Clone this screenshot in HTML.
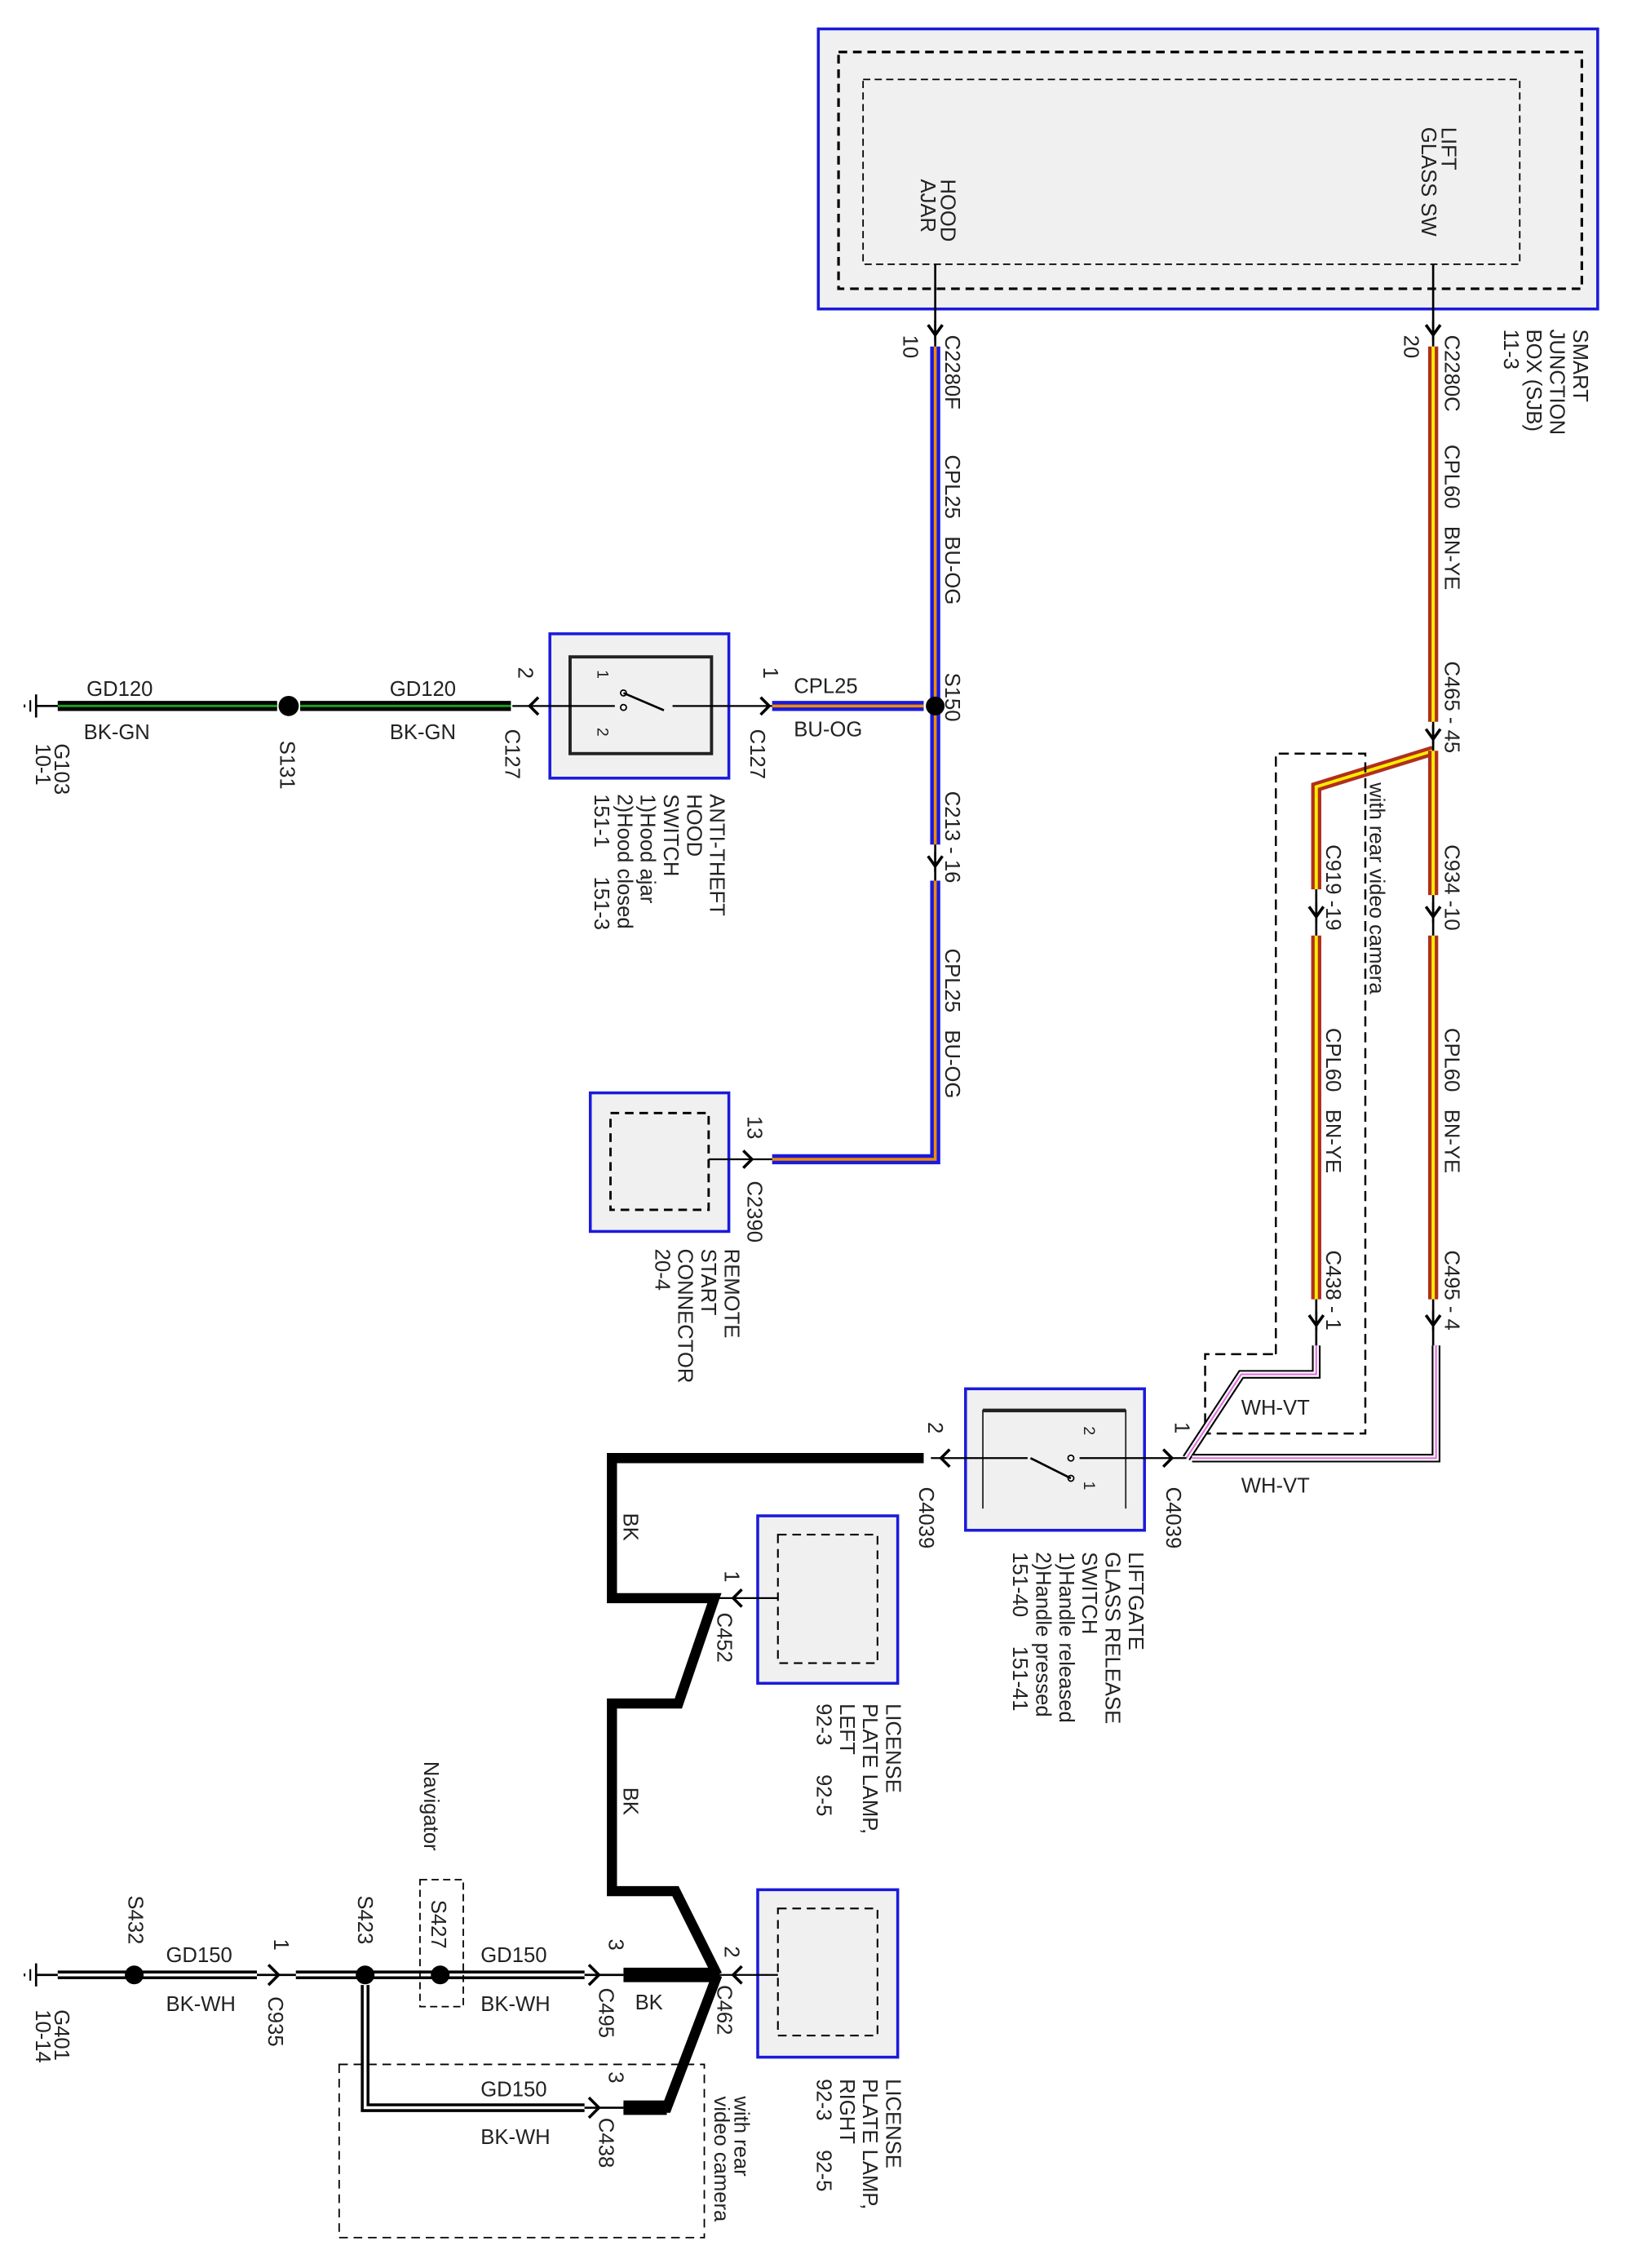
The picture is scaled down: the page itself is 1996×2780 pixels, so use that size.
<!DOCTYPE html>
<html><head><meta charset="utf-8"><style>
html,body{margin:0;padding:0;background:#fff}
svg{display:block}
text{font-family:"Liberation Sans",sans-serif;font-size:14.5px;fill:#222;white-space:pre}
</style></head><body>
<svg width="1996" height="2780" viewBox="0 0 1128 1571" xmlns="http://www.w3.org/2000/svg" xml:space="preserve">
<defs>
<g id="dn"><path d="M-5,-7 L0,0 L5,-7" fill="none" stroke="#000" stroke-width="2"/><line x1="0" y1="-10" x2="0" y2="4" stroke="#000" stroke-width="1.5"/></g>
</defs>
<rect width="1128" height="1571" fill="#fff"/>

<rect x="567" y="20" width="540" height="194" fill="#f0f0f0" stroke="#1a1adc" stroke-width="2"/>
<rect x="581" y="36" width="515" height="164" fill="none" stroke="#000" stroke-width="1.8" stroke-dasharray="6,4"/>
<rect x="598" y="55" width="455" height="128" fill="none" stroke="#000" stroke-width="1" stroke-dasharray="5,3"/>
<text transform="translate(652,124) rotate(90)"><tspan x="0" dy="0">HOOD</tspan><tspan x="0" dy="14">AJAR</tspan></text>
<text transform="translate(999,88) rotate(90)"><tspan x="0">LIFT</tspan><tspan x="0" dy="14">GLASS SW</tspan></text>
<text transform="translate(1090,228) rotate(90)"><tspan x="0">SMART</tspan><tspan x="0" dy="16">JUNCTION</tspan><tspan x="0" dy="16">BOX (SJB)</tspan><tspan x="0" dy="16">11-3</tspan></text>

<line x1="648" y1="183" x2="648" y2="240" stroke="#000" stroke-width="1.5"/>
<use href="#dn" x="648" y="232"/>
<g stroke-linecap="butt" fill="none">
<polyline points="648,240 648,585" stroke="#1a1adc" stroke-width="7"/>
<polyline points="648,240 648,585" stroke="#f08c00" stroke-width="2"/>
<polyline points="648,610 648,803 535,803" stroke="#1a1adc" stroke-width="7"/>
<polyline points="648,610 648,803 535,803" stroke="#f08c00" stroke-width="2"/>
<polyline points="535,489 640,489" stroke="#1a1adc" stroke-width="7"/>
<polyline points="535,489 640,489" stroke="#f08c00" stroke-width="2"/>
</g>
<line x1="648" y1="585" x2="648" y2="610" stroke="#000" stroke-width="1.5"/>
<use href="#dn" x="648" y="600"/>
<circle cx="648" cy="489" r="6.5" fill="#000"/>
<text transform="translate(626,232) rotate(90)">10</text>
<text transform="translate(655,232) rotate(90)">C2280F</text>
<text transform="translate(655,315) rotate(90)">CPL25   BU-OG</text>
<text transform="translate(655,466) rotate(90)">S150</text>
<text transform="translate(655,548) rotate(90)">C213 - 16</text>
<text transform="translate(655,657) rotate(90)">CPL25   BU-OG</text>

<rect x="381" y="439" width="124" height="100" fill="#f0f0f0" stroke="#1a1adc" stroke-width="2"/>
<rect x="395" y="455" width="98" height="67" fill="none" stroke="#222" stroke-width="2.2"/>
<line x1="355" y1="489" x2="535" y2="489" stroke="#000" stroke-width="1.3"/>
<path d="M527,483 L533,489 L527,495" fill="none" stroke="#000" stroke-width="2"/>
<path d="M373,483 L367,489 L373,495" fill="none" stroke="#000" stroke-width="2"/>
<rect x="426" y="478" width="40" height="20" fill="#f0f0f0"/>
<circle cx="432" cy="480" r="2" fill="#fff" stroke="#000"/><circle cx="432" cy="490" r="2" fill="#fff" stroke="#000"/>
<line x1="432" y1="480" x2="460" y2="492" stroke="#000" stroke-width="1.5"/>
<text transform="translate(414,464) rotate(90)" style="font-size:11px">1</text>
<text transform="translate(414,504) rotate(90)" style="font-size:11px">2</text>
<text transform="translate(529,462) rotate(90)">1</text>
<text transform="translate(520,505) rotate(90)">C127</text>
<text transform="translate(359,462) rotate(90)">2</text>
<text transform="translate(350,505) rotate(90)">C127</text>
<text x="550" y="480">CPL25</text><text x="550" y="510">BU-OG</text>
<text transform="translate(492,550) rotate(90)"><tspan x="0">ANTI-THEFT</tspan><tspan x="0" dy="16">HOOD</tspan><tspan x="0" dy="16">SWITCH</tspan><tspan x="0" dy="16">1)Hood ajar</tspan><tspan x="0" dy="16">2)Hood closed</tspan><tspan x="0" dy="16">151-1     151-3</tspan></text>

<g>
<line x1="40" y1="489" x2="192" y2="489" stroke="#000" stroke-width="7"/>
<line x1="40" y1="489" x2="192" y2="489" stroke="#1aa01a" stroke-width="1.6"/>
<line x1="208" y1="489" x2="354" y2="489" stroke="#000" stroke-width="7"/>
<line x1="208" y1="489" x2="354" y2="489" stroke="#1aa01a" stroke-width="1.6"/>
</g>
<circle cx="200" cy="489" r="7" fill="#000"/>
<line x1="25" y1="489" x2="40" y2="489" stroke="#000" stroke-width="1.5"/>
<line x1="25" y1="481" x2="25" y2="497" stroke="#000" stroke-width="1.5"/>
<line x1="21" y1="485" x2="21" y2="493" stroke="#000" stroke-width="1.2"/>
<line x1="17" y1="488" x2="17" y2="490" stroke="#000" stroke-width="1.2"/>
<text x="60" y="482">GD120</text><text x="58" y="512">BK-GN</text>
<text x="270" y="482">GD120</text><text x="270" y="512">BK-GN</text>
<text transform="translate(194,513) rotate(90)">S131</text>
<text transform="translate(38,515) rotate(90)"><tspan x="0">G103</tspan><tspan x="0" dy="13">10-1</tspan></text>

<rect x="409" y="757" width="96" height="96" fill="#f0f0f0" stroke="#1a1adc" stroke-width="2"/>
<rect x="423" y="771" width="68" height="67" fill="none" stroke="#000" stroke-width="1.6" stroke-dasharray="6,4"/>
<line x1="491" y1="803" x2="535" y2="803" stroke="#000" stroke-width="1.3"/>
<path d="M515,797 L521,803 L515,809" fill="none" stroke="#000" stroke-width="2"/>
<text transform="translate(518,773) rotate(90)">13</text>
<text transform="translate(518,818) rotate(90)">C2390</text>
<text transform="translate(502,865) rotate(90)"><tspan x="0">REMOTE</tspan><tspan x="0" dy="16">START</tspan><tspan x="0" dy="16">CONNECTOR</tspan><tspan x="0" dy="16">20-4</tspan></text>

<line x1="993" y1="183" x2="993" y2="240" stroke="#000" stroke-width="1.5"/>
<use href="#dn" x="993" y="232"/>
<g fill="none" stroke-linejoin="miter">
<line x1="993" y1="240" x2="993" y2="500" stroke="#b0301c" stroke-width="7"/>
<line x1="993" y1="240" x2="993" y2="500" stroke="#ffee00" stroke-width="2.2"/>
<polyline points="993,520 912,545 912,616" stroke="#b0301c" stroke-width="7"/>
<polyline points="993,520 912,545 912,616" stroke="#ffee00" stroke-width="2.2"/>
<line x1="993" y1="520" x2="993" y2="620" stroke="#b0301c" stroke-width="7"/>
<line x1="993" y1="520" x2="993" y2="620" stroke="#ffee00" stroke-width="2.2"/>
<line x1="912" y1="648" x2="912" y2="900" stroke="#b0301c" stroke-width="7"/>
<line x1="912" y1="648" x2="912" y2="900" stroke="#ffee00" stroke-width="2.2"/>
<line x1="993" y1="648" x2="993" y2="900" stroke="#b0301c" stroke-width="7"/>
<line x1="993" y1="648" x2="993" y2="900" stroke="#ffee00" stroke-width="2.2"/>
</g>
<line x1="993" y1="500" x2="993" y2="520" stroke="#000" stroke-width="1.5"/>
<use href="#dn" x="993" y="512"/>
<line x1="912" y1="616" x2="912" y2="648" stroke="#000" stroke-width="1.5"/>
<use href="#dn" x="912" y="635"/>
<line x1="993" y1="620" x2="993" y2="648" stroke="#000" stroke-width="1.5"/>
<use href="#dn" x="993" y="635"/>
<line x1="912" y1="900" x2="912" y2="932" stroke="#000" stroke-width="1.5"/>
<use href="#dn" x="912" y="918"/>
<line x1="993" y1="900" x2="993" y2="932" stroke="#000" stroke-width="1.5"/>
<use href="#dn" x="993" y="918"/>
<text transform="translate(973,232) rotate(90)">20</text>
<text transform="translate(1001,232) rotate(90)">C2280C</text>
<text transform="translate(1001,308) rotate(90)">CPL60   BN-YE</text>
<text transform="translate(1001,458) rotate(90)">C465 - 45</text>
<text transform="translate(1001,585) rotate(90)">C934 -10</text>
<text transform="translate(1001,712) rotate(90)">CPL60   BN-YE</text>
<text transform="translate(1001,866) rotate(90)">C495 - 4</text>
<text transform="translate(919,585) rotate(90)">C919 -19</text>
<text transform="translate(919,712) rotate(90)">CPL60   BN-YE</text>
<text transform="translate(919,866) rotate(90)">C438 - 1</text>
<text transform="translate(949,542) rotate(90)">with rear video camera</text>
<polyline points="884,938 884,522 946,522 946,993 835,993 835,938 884,938" fill="none" stroke="#000" stroke-width="1.4" stroke-dasharray="7,4"/>

<g fill="none">
<polyline points="912,932 912,952 860,952 822,1010" stroke="#000" stroke-width="6"/>
<polyline points="912,932 912,952 860,952 822,1010" stroke="#fff" stroke-width="3.6"/>
<polyline points="912,932 912,952 860,952 822,1010" stroke="#e070e0" stroke-width="1.2"/>
<polyline points="995,932 995,1010 826,1010" stroke="#000" stroke-width="6"/>
<polyline points="995,932 995,1010 826,1010" stroke="#fff" stroke-width="3.6"/>
<polyline points="995,932 995,1010 826,1010" stroke="#e070e0" stroke-width="1.2"/>
</g>
<text x="860" y="980">WH-VT</text><text x="860" y="1034">WH-VT</text>

<rect x="669" y="962" width="124" height="98" fill="#f0f0f0" stroke="#1a1adc" stroke-width="2"/>
<path d="M681,1045 L681,977 L780,977 L780,1045" fill="none" stroke="#222" stroke-width="1"/>
<line x1="681" y1="977" x2="780" y2="977" stroke="#222" stroke-width="2.5"/>
<line x1="645" y1="1010" x2="822" y2="1010" stroke="#000" stroke-width="1.3"/>
<path d="M806,1004 L812,1010 L806,1016" fill="none" stroke="#000" stroke-width="2"/>
<path d="M658,1004 L652,1010 L658,1016" fill="none" stroke="#000" stroke-width="2"/>
<rect x="712" y="1004" width="36" height="26" fill="#f0f0f0"/>
<circle cx="742" cy="1010" r="2" fill="#fff" stroke="#000"/><circle cx="742" cy="1024" r="2" fill="#fff" stroke="#000"/>
<line x1="742" y1="1024" x2="714" y2="1010" stroke="#000" stroke-width="1.5"/>
<text transform="translate(751,988) rotate(90)" style="font-size:11px">2</text>
<text transform="translate(751,1026) rotate(90)" style="font-size:11px">1</text>
<text transform="translate(814,985) rotate(90)">1</text>
<text transform="translate(808,1030) rotate(90)">C4039</text>
<text transform="translate(643,985) rotate(90)">2</text>
<text transform="translate(637,1030) rotate(90)">C4039</text>
<text transform="translate(782,1075) rotate(90)"><tspan x="0">LIFTGATE</tspan><tspan x="0" dy="16">GLASS RELEASE</tspan><tspan x="0" dy="16">SWITCH</tspan><tspan x="0" dy="16">1)Handle released</tspan><tspan x="0" dy="16">2)Handle pressed</tspan><tspan x="0" dy="16">151-40     151-41</tspan></text>

<g fill="none" stroke="#000" stroke-width="7" stroke-linejoin="miter">
<polyline points="640,1010 424,1010 424,1107 495,1107 470,1180 424,1180 424,1310 468,1310 497,1368"/>
<polyline points="497,1368 462,1460 432,1460"/>
</g>
<line x1="432" y1="1368" x2="497" y2="1368" stroke="#000" stroke-width="10"/>
<line x1="432" y1="1460" x2="462" y2="1460" stroke="#000" stroke-width="10"/>
<text transform="translate(432,1048) rotate(90)">BK</text>
<text transform="translate(432,1238) rotate(90)">BK</text>
<text x="440" y="1392">BK</text>

<rect x="525" y="1050" width="97" height="116" fill="#f0f0f0" stroke="#1a1adc" stroke-width="2"/>
<rect x="539" y="1063" width="69" height="89" fill="none" stroke="#000" stroke-width="1.2" stroke-dasharray="6,4"/>
<line x1="497" y1="1107" x2="539" y2="1107" stroke="#000" stroke-width="1.3"/>
<path d="M514,1101 L508,1107 L514,1113" fill="none" stroke="#000" stroke-width="2"/>
<text transform="translate(502,1088) rotate(90)">1</text>
<text transform="translate(497,1117) rotate(90)">C452</text>
<text transform="translate(614,1180) rotate(90)"><tspan x="0">LICENSE</tspan><tspan x="0" dy="16">PLATE LAMP,</tspan><tspan x="0" dy="16">LEFT</tspan><tspan x="0" dy="16">92-3     92-5</tspan></text>

<rect x="525" y="1309" width="97" height="116" fill="#f0f0f0" stroke="#1a1adc" stroke-width="2"/>
<rect x="539" y="1322" width="69" height="88" fill="none" stroke="#000" stroke-width="1.2" stroke-dasharray="6,4"/>
<line x1="497" y1="1368" x2="539" y2="1368" stroke="#000" stroke-width="1.3"/>
<path d="M514,1362 L508,1368 L514,1374" fill="none" stroke="#000" stroke-width="2"/>
<text transform="translate(502,1348) rotate(90)">2</text>
<text transform="translate(497,1375) rotate(90)">C462</text>
<text transform="translate(614,1440) rotate(90)"><tspan x="0">LICENSE</tspan><tspan x="0" dy="16">PLATE LAMP,</tspan><tspan x="0" dy="16">RIGHT</tspan><tspan x="0" dy="16">92-3     92-5</tspan></text>

<g fill="none">
<polyline points="40,1368 178,1368" stroke="#000" stroke-width="6"/>
<polyline points="40,1368 178,1368" stroke="#fff" stroke-width="2"/>
<polyline points="205,1368 405,1368" stroke="#000" stroke-width="6"/>
<polyline points="205,1368 405,1368" stroke="#fff" stroke-width="2"/>
<polyline points="253,1375 253,1460 405,1460" stroke="#000" stroke-width="6"/>
<polyline points="253,1375 253,1460 405,1460" stroke="#fff" stroke-width="2"/>
</g>
<line x1="178" y1="1368" x2="205" y2="1368" stroke="#000" stroke-width="1.5"/>
<path d="M186,1361 L193,1368 L186,1375" fill="none" stroke="#000" stroke-width="2"/>
<line x1="405" y1="1368" x2="432" y2="1368" stroke="#000" stroke-width="1.5"/>
<path d="M408,1361 L415,1368 L408,1375" fill="none" stroke="#000" stroke-width="2"/>
<line x1="405" y1="1460" x2="432" y2="1460" stroke="#000" stroke-width="1.5"/>
<path d="M408,1453 L415,1460 L408,1467" fill="none" stroke="#000" stroke-width="2"/>
<circle cx="93" cy="1368" r="6.5" fill="#000"/>
<circle cx="253" cy="1368" r="6.5" fill="#000"/>
<circle cx="305" cy="1368" r="6.5" fill="#000"/>
<line x1="25" y1="1368" x2="40" y2="1368" stroke="#000" stroke-width="1.5"/>
<line x1="25" y1="1360" x2="25" y2="1376" stroke="#000" stroke-width="1.5"/>
<line x1="21" y1="1364" x2="21" y2="1372" stroke="#000" stroke-width="1.2"/>
<line x1="17" y1="1367" x2="17" y2="1369" stroke="#000" stroke-width="1.2"/>
<text transform="translate(38,1392) rotate(90)"><tspan x="0">G401</tspan><tspan x="0" dy="13">10-14</tspan></text>
<text transform="translate(89,1313) rotate(90)">S432</text>
<text transform="translate(248,1313) rotate(90)">S423</text>
<text transform="translate(299,1316) rotate(90)">S427</text>
<text transform="translate(294,1220) rotate(90)">Navigator</text>
<rect x="291" y="1302" width="30" height="88" fill="none" stroke="#000" stroke-width="1" stroke-dasharray="5,3"/>
<text x="115" y="1359">GD150</text><text x="115" y="1393">BK-WH</text>
<text x="333" y="1359">GD150</text><text x="333" y="1393">BK-WH</text>
<text x="333" y="1452">GD150</text><text x="333" y="1485">BK-WH</text>
<text transform="translate(190,1343) rotate(90)">1</text>
<text transform="translate(186,1383) rotate(90)">C935</text>
<text transform="translate(422,1343) rotate(90)">3</text>
<text transform="translate(415,1377) rotate(90)">C495</text>
<text transform="translate(422,1435) rotate(90)">3</text>
<text transform="translate(415,1467) rotate(90)">C438</text>
<rect x="235" y="1430" width="253" height="120" fill="none" stroke="#000" stroke-width="1" stroke-dasharray="6,4"/>
<text transform="translate(509,1452) rotate(90)"><tspan x="0">with rear</tspan><tspan x="0" dy="14">video camera</tspan></text>
</svg>
</body></html>
